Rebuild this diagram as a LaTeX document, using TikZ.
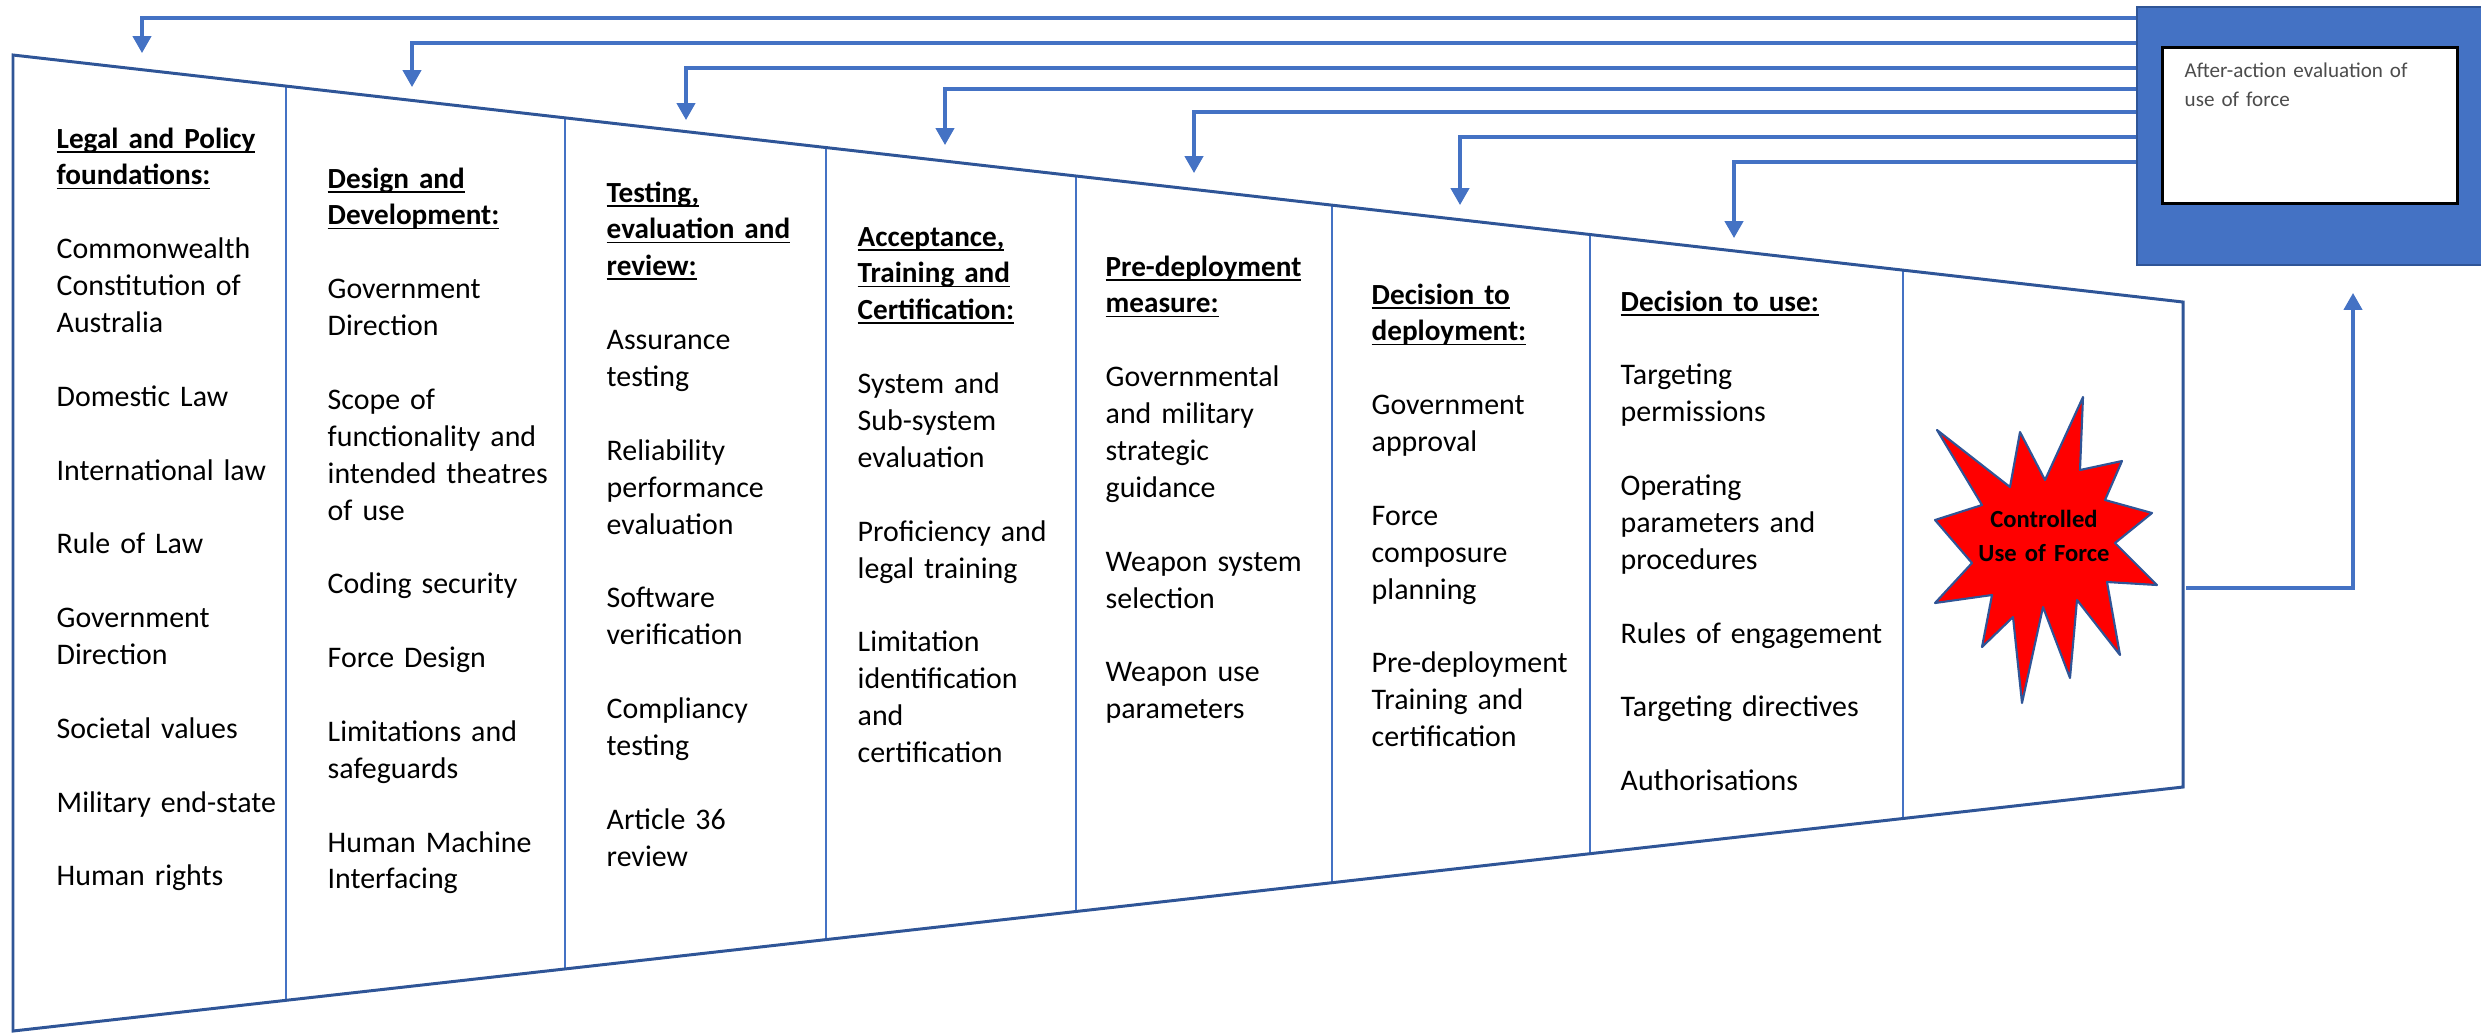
\documentclass[tikz,border=0pt]{standalone}
\usepackage{fontspec}
\setmainfont{Carlito}
\usetikzlibrary{positioning, arrows.meta, calc}

\definecolor{officeblue}{RGB}{68,114,196}
\definecolor{darkblue}{RGB}{47,85,151}
\definecolor{burstred}{RGB}{255,0,0}

% Ueberschrift fett und unterstrichen
\newcommand{\hd}[1]{\setbox0\hbox{\color{black}\fontsize{8.3pt}{10.49pt}\selectfont\bfseries #1}\leavevmode\rlap{\color{black}\rule[-1.3pt]{\wd0}{0.55pt}}\box0}
\newcommand{\gapline}{\\[\baselineskip]}

\tikzset{
  feedback/.style={officeblue, line width=0.9pt, -{Triangle[width=5.2pt,length=4.8pt]}},
  divider/.style={officeblue, line width=0.6pt},
  outline/.style={darkblue, line width=0.85pt},
  column/.style={anchor=base west, inner sep=0pt, text width=4cm, align=left,
    font=\fontsize{8.5pt}{10.49pt}\selectfont, text=black!85}
}

\begin{document}
\begin{tikzpicture}[x=0.01cm, y=-0.01cm]
\useasboundingbox (0,0) rectangle (2481,1035);

% Trichter
\coordinate (tl) at (13,55);
\coordinate (tr) at (2183,302);
\coordinate (br) at (2183,787);
\coordinate (bl) at (13,1031);

% Trennlinien
\foreach \x in {286,565,826,1076,1332,1590,1903}
  \draw[divider] ($(tl)!{(\x-13)/2170}!(tr)$) -- ($(bl)!{(\x-13)/2170}!(br)$);
\draw[outline] (tl) -- (tr) -- (br) -- (bl) -- cycle;

% Auswertung
\node[draw=darkblue, fill=officeblue, minimum width=3.6cm, minimum height=2.58cm, inner sep=0pt] (evalbox) at (2317,136) {};
\node[draw=black, line width=0.85pt, fill=white, minimum width=2.94cm, minimum height=1.55cm, inner sep=0pt] (evalinner) at (2310,125.5) {};
\node[anchor=base west, inner sep=0pt, text width=2.6cm, align=left, font=\fontsize{6pt}{8.25pt}\selectfont, text=black!70] (evaltxt) at (2184,77) {After-action evaluation of\\use of force};

% Rueckkopplung
\foreach \i/\xa/\ya/\yb in {1/142/18/53, 2/412/43/87, 3/686/68/120, 4/945/89/145, 5/1194/112/173, 6/1460/137/205, 7/1734/162/238}{
  \coordinate (fb\i) at (evalbox.west |- 0,\ya);
  \coordinate (in\i) at (\xa,\yb);
  \draw[feedback] (fb\i) -| (in\i);
}
\coordinate (useout) at (2186,588);
\coordinate (evalin) at (2353,293);
\draw[feedback] (useout) -| (evalin);

% Explosion
\draw[darkblue, line width=0.6pt, fill=burstred, line join=round]
  (2083,397) -- (2080,470) -- (2122,461) -- (2105,500) -- (2152,513) -- (2115,543)
  -- (2157,585) -- (2107,582) -- (2120,655) -- (2077,600) -- (2070,678) -- (2043,607)
  -- (2022,703) -- (2013,617) -- (1982,647) -- (1992,595) -- (1935,603) -- (1972,563)
  -- (1935,520) -- (1982,505) -- (1937,430) -- (2010,487) -- (2020,432) -- (2045,480) -- cycle;
\node[anchor=base, inner sep=0pt, text width=1.6cm, align=center, font=\fontsize{7pt}{9.7pt}\selectfont\bfseries] (force) at (2044,527) {Controlled\\Use of Force};

% Spalten
\node[column] (legal) at (56,148) {\hd{Legal and Policy}\\\hd{foundations:}\gapline
  Commonwealth\\Constitution of\\Australia\gapline
  Domestic Law\gapline
  International law\gapline
  Rule of Law\gapline
  Government\\Direction\gapline
  Societal values\gapline
  Military end-state\gapline
  Human rights};

\node[column] (design) at (327,188) {\hd{Design and}\\\hd{Development:}\gapline
  Government\\Direction\gapline
  Scope of\\functionality and\\intended theatres\\of use\gapline
  Coding security\gapline
  Force Design\gapline
  Limitations and\\safeguards\gapline
  Human Machine\\Interfacing};

\node[column] (testing) at (606,202) {\hd{Testing,}\\\hd{evaluation and}\\\hd{review:}\gapline
  Assurance\\testing\gapline
  Reliability\\performance\\evaluation\gapline
  Software\\verification\gapline
  Compliancy\\testing\gapline
  Article 36\\review};

\node[column] (accept) at (857,246) {\hd{Acceptance,}\\\hd{Training and}\\\hd{Certification:}\gapline
  System and\\Sub-system\\evaluation\gapline
  Proficiency and\\legal training\gapline
  Limitation\\identification\\and\\certification};

\node[column] (predeploy) at (1105,276) {\hd{Pre-deployment}\\\hd{measure:}\gapline
  Governmental\\and military\\strategic\\guidance\gapline
  Weapon system\\selection\gapline
  Weapon use\\parameters};

\node[column] (deploy) at (1371,304) {\hd{Decision to}\\\hd{deployment:}\gapline
  Government\\approval\gapline
  Force\\composure\\planning\gapline
  Pre-deployment\\Training and\\certification};

\node[column] (use) at (1620,311) {\hd{Decision to use:}\gapline
  Targeting\\permissions\gapline
  Operating\\parameters and\\procedures\gapline
  Rules of engagement\gapline
  Targeting directives\gapline
  Authorisations};
\end{tikzpicture}
\end{document}
